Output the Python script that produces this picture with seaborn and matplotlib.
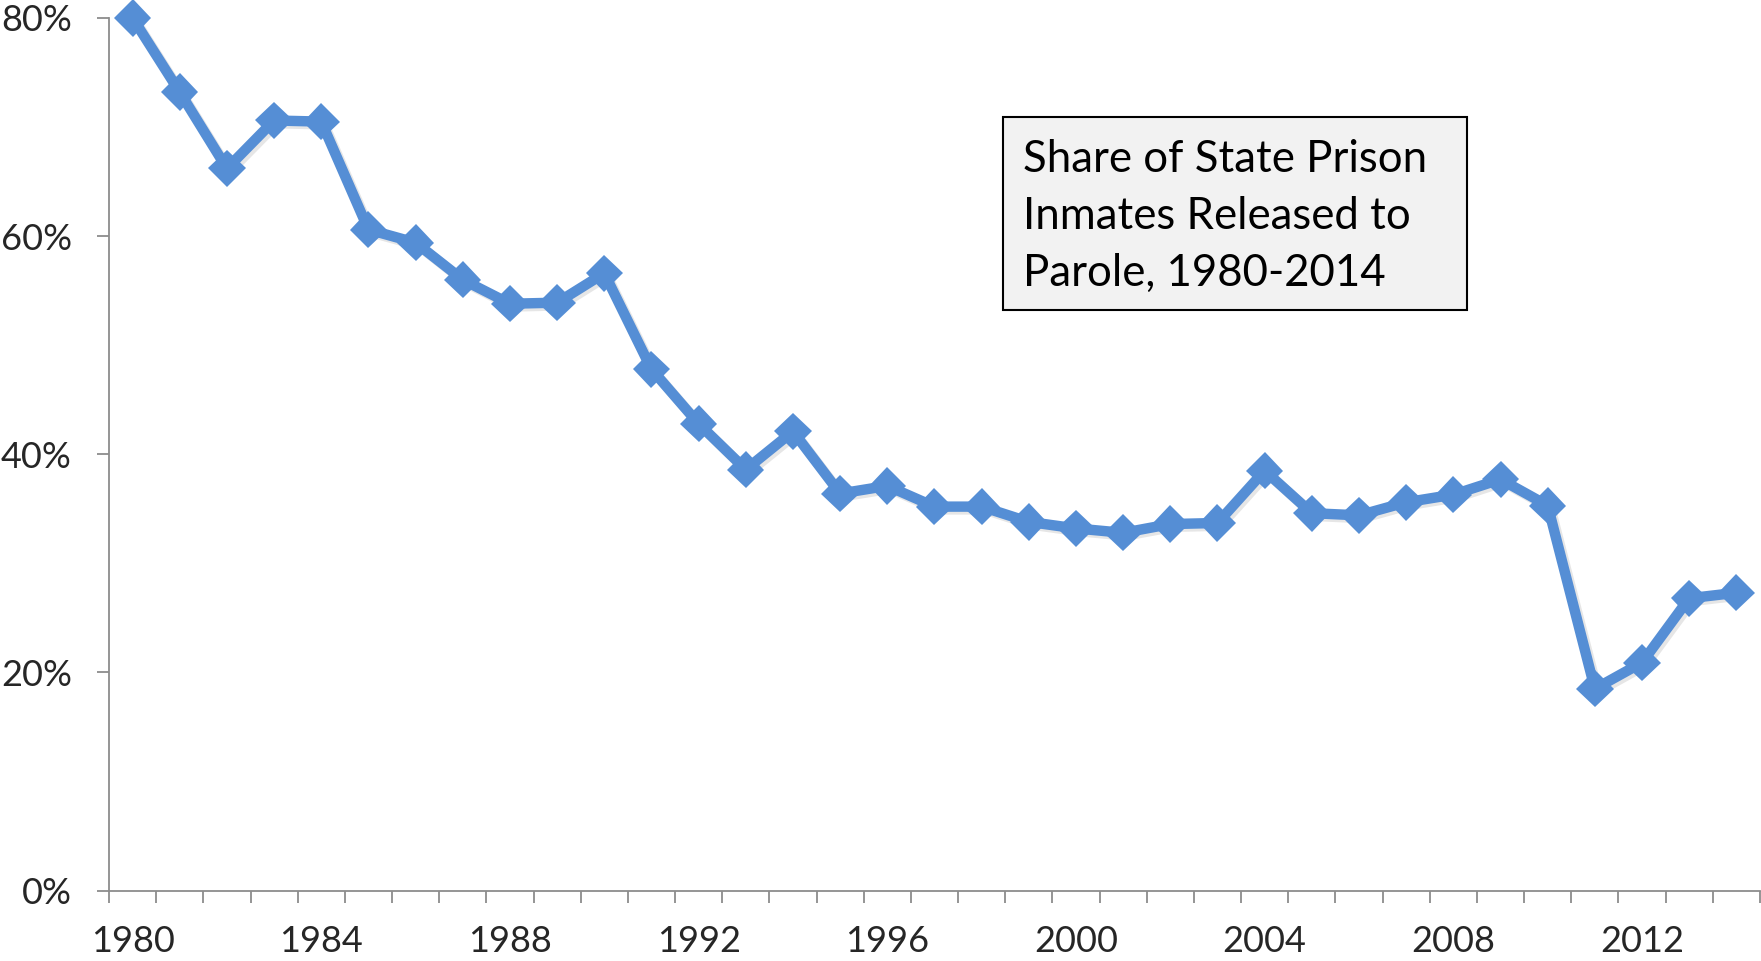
import numpy as np
import pandas as pd
import matplotlib
matplotlib.use('Agg')
import matplotlib.pyplot as plt
import matplotlib.patheffects as pe
from matplotlib.patches import Rectangle
from matplotlib.ticker import FuncFormatter
import seaborn as sns

sns.set_style("ticks")
plt.rcParams['font.family'] = ['Lato', 'DejaVu Sans']

# share of state prison inmates released to parole (fraction)
years = list(range(1980, 2015))
parole_share = [0.800, 0.732, 0.662, 0.706, 0.705, 0.606, 0.594, 0.560, 0.538, 0.539,
                0.566, 0.478, 0.428, 0.386, 0.421, 0.364, 0.371, 0.352, 0.352, 0.338,
                0.332, 0.328, 0.336, 0.337, 0.385, 0.346, 0.344, 0.356, 0.363, 0.377,
                0.353, 0.185, 0.209, 0.268, 0.273]
label_years = [1980, 1984, 1988, 1992, 1996, 2000, 2004, 2008, 2012]
y_ticks = [0.0, 0.2, 0.4, 0.6, 0.8]
box_text = 'Share of State Prison\nInmates Released to\nParole, 1980-2014'

df = pd.DataFrame({'year': years, 'share': parole_share})

fig = plt.figure(figsize=(17.61, 9.61), dpi=100)
ax = fig.add_axes([0.0619, 0.0733, 0.9375, 0.9080])

line_color = '#558ed5'
sns.lineplot(data=df, x='year', y='share', ax=ax, color=line_color,
             linewidth=7.5, marker='D', markersize=19, markeredgewidth=0,
             clip_on=False, zorder=3,
             path_effects=[pe.SimpleLineShadow(offset=(2, -2), alpha=0.12, shadow_color='#333333'),
                           pe.Normal()])

ax.set_xlim(years[0] - 0.5, years[-1] + 0.5)
ax.set_ylim(0, 0.8)
ax.set_xlabel('')
ax.set_ylabel('')

# category-style x axis: ticks between years, labels every 4 years
ax.set_xticks(label_years)
ax.set_xticklabels([str(y) for y in label_years])
ax.set_xticks([y - 0.5 for y in years] + [years[-1] + 0.5], minor=True)
ax.tick_params(axis='x', which='major', length=0, pad=25, labelsize=26)
ax.tick_params(axis='x', which='minor', length=12 * 0.72, width=1.3, color='#8c8c8c', direction='out')

ax.set_yticks(y_ticks)
ax.yaxis.set_major_formatter(FuncFormatter(lambda v, p: '{:.0f}%'.format(v * 100)))
ax.tick_params(axis='y', length=12 * 0.72, width=1.3, color='#8c8c8c', pad=18, labelsize=26)

sns.despine(ax=ax, top=True, right=True)
for side in ['left', 'bottom']:
    ax.spines[side].set_color('#8c8c8c')
    ax.spines[side].set_linewidth(1.3)

# title box
fig.patches.append(Rectangle((0.5696, 0.6774), 0.2635, 0.2008, transform=fig.transFigure,
                             facecolor='#f2f2f2', edgecolor='black', linewidth=1.5, zorder=5))
fig.text(0.5810, 0.8555, box_text, ha='left', va='top', fontsize=31.5,
         linespacing=1.49, color='black', zorder=6)

fig.savefig('out.png', dpi=100)
plt.close(fig)
